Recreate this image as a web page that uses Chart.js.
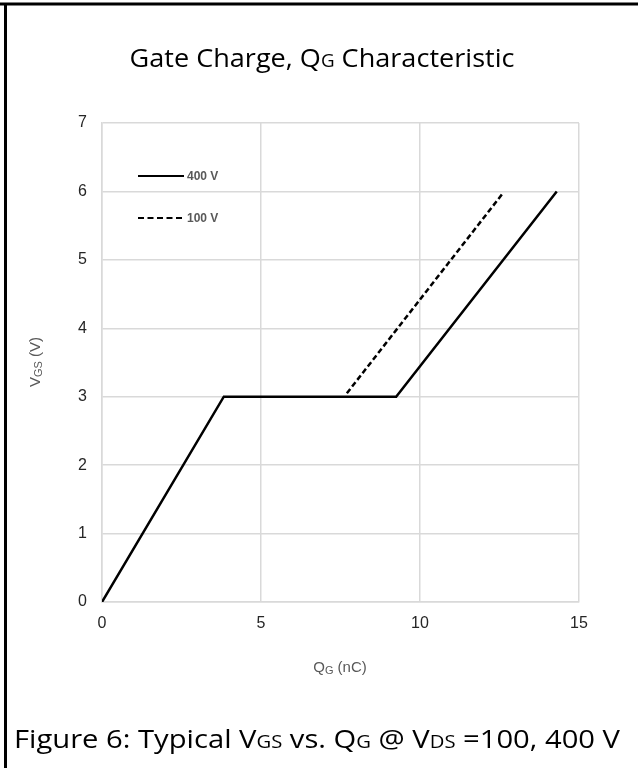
<!DOCTYPE html>
<html><head><meta charset="utf-8">
<script src="https://cdn.jsdelivr.net/npm/chart.js@4"></script>
<style>html,body{margin:0;padding:0;background:#fff}#wrap{width:638px;height:768px;position:relative}</style>
</head><body><div id="wrap"><canvas id="c" width="638" height="768"></canvas></div>
<script>
const seriesLabels = ['400 V', '100 V'];
const qg400 = [0, 3.83, 9.25, 14.3];
const vgs400 = [0, 3.0, 3.0, 6.0];
const qg100 = [7.7, 12.6];
const vgs100 = [3.05, 5.97];
const xTicks = [0, 5, 10, 15];
const yTicks = [0, 1, 2, 3, 4, 5, 6, 7];

const toPts = (xs, ys) => xs.map((x, i) => ({x, y: ys[i]}));

function drawSub(ctx, parts, x, y, align, targetW) {
  let w = 0;
  parts.forEach(p => { ctx.font = p.font; w += ctx.measureText(p.t).width; });
  let sx = targetW ? targetW / w : 1;
  ctx.save();
  let cx = align === 'center' ? x - (w * sx) / 2 : x;
  ctx.translate(cx, y);
  ctx.scale(sx, 1);
  let px = 0;
  parts.forEach(p => {
    ctx.font = p.font;
    ctx.fillText(p.t, px, (p.dy || 0));
    px += ctx.measureText(p.t).width;
  });
  ctx.restore();
}

const overlay = {
  id: 'overlay',
  afterDraw(chart) {
    const ctx = chart.ctx;
    ctx.save();
    ctx.strokeStyle = '#000'; ctx.lineWidth = 3;
    ctx.beginPath(); ctx.moveTo(0, 4); ctx.lineTo(638, 4); ctx.stroke();
    ctx.beginPath(); ctx.moveTo(5.5, 4); ctx.lineTo(5.5, 768); ctx.stroke();
    ctx.textBaseline = 'alphabetic';
    ctx.fillStyle = '#000';
    const big = '26px "Open Sans"', bigSub = '18px "Open Sans"';
    drawSub(ctx, [{t: 'Gate Charge, Q', font: big}, {t: 'G', font: bigSub}, {t: ' Characteristic', font: big}], 322, 67, 'center', 385);
    drawSub(ctx, [{t: 'Figure 6: Typical V', font: big}, {t: 'GS', font: bigSub}, {t: ' vs. Q', font: big}, {t: 'G', font: bigSub}, {t: ' @ V', font: big}, {t: 'DS', font: bigSub}, {t: ' =100, 400 V', font: big}], 14, 748, 'left', 606);
    ctx.fillStyle = '#595959';
    const ax = '15px "Liberation Sans"', axs = '11px "Liberation Sans"';
    drawSub(ctx, [{t: 'Q', font: ax}, {t: 'G', font: axs, dy: 2}, {t: ' (nC)', font: ax}], 340, 672, 'center');
    ctx.save();
    ctx.translate(40, 362); ctx.rotate(-Math.PI / 2);
    drawSub(ctx, [{t: 'V', font: ax}, {t: 'GS', font: axs, dy: 2}, {t: ' (V)', font: ax}], 0, 0, 'center');
    ctx.restore();
    const ds = chart.data.datasets;
    const ys = [176, 218];
    ds.forEach((d, i) => {
      ctx.strokeStyle = '#000'; ctx.lineWidth = 2;
      ctx.setLineDash(d.borderDash ? [6, 3.5] : []);
      ctx.beginPath(); ctx.moveTo(138, ys[i]); ctx.lineTo(184, ys[i]); ctx.stroke();
      ctx.setLineDash([]);
      ctx.fillStyle = '#595959';
      ctx.font = 'bold 12px "Liberation Sans"';
      ctx.textBaseline = 'middle';
      ctx.fillText(d.label, 187, ys[i] + 1);
    });
    ctx.restore();
  }
};

new Chart(document.getElementById('c'), {
  type: 'line',
  data: {
    datasets: [
      {label: seriesLabels[0], data: toPts(qg400, vgs400), borderColor: '#000', borderWidth: 2.5, pointRadius: 0, fill: false, tension: 0},
      {label: seriesLabels[1], data: toPts(qg100, vgs100), borderColor: '#000', borderWidth: 2.5, borderDash: [5.5, 3], pointRadius: 0, fill: false, tension: 0}
    ]
  },
  options: {
    responsive: false, animation: false,
    layout: {padding: {top: 123, right: 59, left: 0, bottom: 0}},
    plugins: {legend: {display: false}, tooltip: {enabled: false}, title: {display: false}},
    scales: {
      x: {type: 'linear', min: 0, max: 15,
        afterFit(s) { s.height = 166; },
        afterBuildTicks(s) { s.ticks = xTicks.map(v => ({value: v})); },
        grid: {color: '#d9d9d9', lineWidth: 1.5, drawTicks: false},
        border: {color: '#d9d9d9', width: 1.5},
        ticks: {padding: 12, color: '#262626', font: {family: 'Liberation Sans', size: 16}}
      },
      y: {type: 'linear', min: 0, max: 7,
        afterFit(s) { s.width = 102; },
        afterBuildTicks(s) { s.ticks = yTicks.map(v => ({value: v})); },
        grid: {color: '#d9d9d9', lineWidth: 1.5, drawTicks: false},
        border: {color: '#d9d9d9', width: 1.5},
        ticks: {padding: 15, color: '#262626', font: {family: 'Liberation Sans', size: 16}}
      }
    }
  },
  plugins: [overlay]
});
</script></body></html>
